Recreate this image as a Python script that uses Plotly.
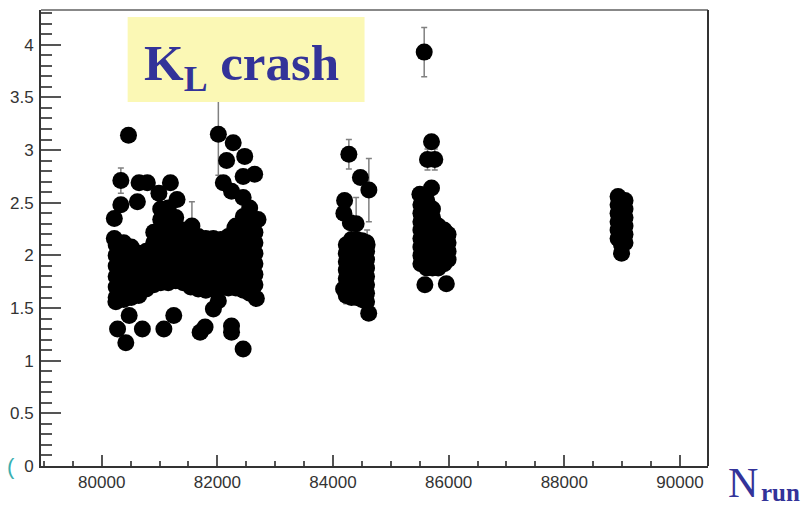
import plotly.graph_objects as go

# ---------------- data (run number vs. value) ----------------
# dense core of the first run period: column run numbers and values in each column
c1_cols = [80250, 80380, 80510, 80640, 80770, 80900, 81020, 81150, 81280, 81410,
           81540, 81670, 81800, 81930, 82060, 82190, 82320, 82450, 82560, 82650]
c1_vals = [
    [1.60, 1.70, 1.80, 1.90, 2.00, 2.10],
    [1.58, 1.68, 1.78, 1.88, 1.98, 2.08, 2.12],
    [1.60, 1.70, 1.80, 1.90, 2.00, 2.08],
    [1.62, 1.72, 1.82, 1.92, 2.02],
    [1.68, 1.78, 1.88, 1.98, 2.04],
    [1.72, 1.82, 1.92, 2.02, 2.12, 2.22],
    [1.74, 1.84, 1.94, 2.04, 2.14, 2.24, 2.34, 2.44],
    [1.74, 1.84, 1.94, 2.04, 2.14, 2.24, 2.34, 2.45],
    [1.76, 1.86, 1.96, 2.06, 2.16, 2.26, 2.36],
    [1.74, 1.84, 1.94, 2.04, 2.14, 2.24],
    [1.70, 1.80, 1.90, 2.00, 2.10, 2.20],
    [1.68, 1.78, 1.88, 1.98, 2.08, 2.18],
    [1.67, 1.77, 1.87, 1.97, 2.07, 2.16],
    [1.68, 1.78, 1.88, 1.98, 2.08, 2.16],
    [1.70, 1.80, 1.90, 2.00, 2.10, 2.15],
    [1.69, 1.79, 1.89, 1.99, 2.09, 2.18],
    [1.69, 1.79, 1.89, 1.99, 2.09, 2.19, 2.28],
    [1.67, 1.77, 1.87, 1.97, 2.07, 2.17, 2.27, 2.37],
    [1.64, 1.74, 1.84, 1.94, 2.04, 2.14, 2.24, 2.34],
    [1.72, 1.82, 1.92, 2.02, 2.12, 2.22],
]
c1_out_runs = [80463, 80646, 80789, 81188, 80989, 81303, 80331, 80617, 80218, 80218,
               82274, 82473, 82160, 82645, 82446, 82103, 82245, 82446, 82559, 82703,
               82302, 82674, 80245, 80475, 80274, 80417, 80703, 81075, 81246, 81702,
               81788, 81931, 82017, 82245, 82245, 82446]
c1_out_vals = [3.14, 2.69, 2.69, 2.69, 2.59, 2.53, 2.48, 2.51, 2.35, 2.16,
               3.07, 2.94, 2.90, 2.77, 2.75, 2.69, 2.61, 2.55, 2.45, 2.34,
               2.26, 1.59, 1.56, 1.43, 1.30, 1.17, 1.30, 1.30, 1.43, 1.27,
               1.32, 1.49, 1.57, 1.33, 1.27, 1.11]

c2_cols = [84230, 84320, 84410, 84500, 84580]
c2_vals = [
    [1.62, 1.70, 1.78, 1.86, 1.94, 2.02, 2.10],
    [1.60, 1.68, 1.76, 1.84, 1.92, 2.00, 2.08, 2.15],
    [1.60, 1.68, 1.76, 1.84, 1.92, 2.00, 2.08, 2.15],
    [1.58, 1.66, 1.74, 1.82, 1.90, 1.98, 2.06, 2.14],
    [1.56, 1.64, 1.72, 1.80, 1.88, 1.96, 2.04, 2.12],
]
c2_out_runs = [84474, 84200, 84188, 84300, 84617, 84183]
c2_out_vals = [2.74, 2.52, 2.40, 2.31, 1.45, 1.68]

c3_cols = [85520, 85620, 85720, 85820, 85920, 85990]
c3_vals = [
    [1.92, 2.00, 2.08, 2.16, 2.24, 2.32, 2.40, 2.48],
    [1.88, 1.96, 2.04, 2.12, 2.20, 2.28, 2.36, 2.44, 2.52],
    [1.88, 1.96, 2.04, 2.12, 2.20, 2.28, 2.36, 2.44],
    [1.88, 1.96, 2.04, 2.12, 2.20, 2.28],
    [1.92, 2.00, 2.08, 2.16, 2.24],
    [1.96, 2.04, 2.12, 2.20],
]
c3_out_runs = [85703, 85703, 85503, 85589, 85960]
c3_out_vals = [3.08, 2.64, 2.58, 1.72, 1.73]

c4_cols = [88930, 88990, 89050]
c4_vals = [
    [2.16, 2.24, 2.32, 2.40, 2.48, 2.56],
    [2.02, 2.10, 2.18, 2.26, 2.34, 2.42, 2.50],
    [2.12, 2.20, 2.28, 2.36, 2.44, 2.52],
]

# points drawn with visible error bars
err_runs = [80331, 82017, 81560, 84274, 84620, 84400, 84230, 84590, 85577, 85634, 85760]
err_vals = [2.71, 3.15, 2.28, 2.96, 2.62, 2.30, 1.68, 2.10, 3.93, 2.91, 2.91]
err_size = [0.12, 0.39, 0.23, 0.14, 0.30, 0.25, 0.14, 0.14, 0.235, 0.10, 0.10]

x_ticks = [80000, 82000, 84000, 86000, 88000, 90000]
y_ticks = [0, 0.5, 1, 1.5, 2, 2.5, 3, 3.5, 4]

# ---------------- assemble ----------------
runs, vals = [], []
for cols, colvals in [(c1_cols, c1_vals), (c2_cols, c2_vals), (c3_cols, c3_vals), (c4_cols, c4_vals)]:
    for r, vs in zip(cols, colvals):
        for v in vs:
            runs.append(r)
            vals.append(v)
for rr, vv in [(c1_out_runs, c1_out_vals), (c2_out_runs, c2_out_vals), (c3_out_runs, c3_out_vals)]:
    runs += rr
    vals += vv

fig = go.Figure()
fig.add_trace(go.Scatter(
    x=err_runs, y=err_vals, mode="markers",
    marker=dict(size=17, color="black"),
    error_y=dict(type="data", array=err_size, color="#808080", thickness=1.5, width=3),
    hoverinfo="skip"))
fig.add_trace(go.Scatter(
    x=runs, y=vals, mode="markers",
    marker=dict(size=17, color="black"),
    hoverinfo="skip"))

axis_font = dict(family="Liberation Sans, Arial, sans-serif", size=17, color="#333333")
fig.update_xaxes(range=[78950, 90485], tickvals=x_ticks, tickformat="d",
                 ticks="inside", ticklen=11, tickwidth=1.5, tickcolor="#555555",
                 minor=dict(dtick=500, tick0=80000, ticks="inside", ticklen=5.5,
                            tickwidth=1.5, tickcolor="#555555"),
                 showline=True, linecolor="#333333", linewidth=2,
                 showgrid=False, zeroline=False, tickfont=axis_font, ticklabelstandoff=0)
fig.update_yaxes(range=[0, 4.33], tickvals=y_ticks,
                 ticks="inside", ticklen=20, tickwidth=1.5, tickcolor="#555555",
                 minor=dict(dtick=0.1, tick0=0, ticks="inside", ticklen=11,
                            tickwidth=1.5, tickcolor="#555555"),
                 showline=True, linecolor="#333333", linewidth=2,
                 showgrid=False, zeroline=False, tickfont=axis_font, ticklabelstandoff=2)

serif = "Liberation Serif, Times New Roman, serif"
fig.update_layout(
    width=803, height=508,
    margin=dict(l=38, r=95, t=10, b=42),
    paper_bgcolor="white", plot_bgcolor="white",
    showlegend=False,
    shapes=[
        dict(type="line", xref="paper", yref="paper", x0=0, x1=1, y0=1, y1=1,
             line=dict(color="#888888", width=2)),
        dict(type="line", xref="paper", yref="paper", x0=1, x1=1, y0=0, y1=1,
             line=dict(color="#333333", width=2)),
        dict(type="rect", xref="paper", yref="paper", x0=0.1299, x1=0.4851,
             y0=0.798, y1=0.9846, fillcolor="#FBF8B5", line=dict(width=0), layer="above"),
    ],
    annotations=[
        dict(text="<b>K<sub>L</sub> crash</b>", xref="paper", yref="paper",
             x=0.152, y=0.876, xanchor="left", yanchor="middle", showarrow=False,
             font=dict(family=serif, size=51, color="#333399")),
        dict(text="N", xref="paper", yref="paper",
             x=1.029, y=-0.0373, xanchor="left", yanchor="middle", showarrow=False,
             borderpad=0, font=dict(family=serif, size=42, color="#333399")),
        dict(text="<b>run</b>", xref="paper", yref="paper",
             x=1.0776, y=-0.0581, xanchor="left", yanchor="middle", showarrow=False,
             borderpad=0, font=dict(family=serif, size=25, color="#333399")),
        dict(text="(", xref="paper", yref="paper", x=-0.0537, y=0.0, xanchor="left",
             yanchor="middle", showarrow=False,
             font=dict(family="Liberation Sans, Arial, sans-serif", size=22, color="#3AAFB0")),
    ],
)

fig.write_html("out.html")
